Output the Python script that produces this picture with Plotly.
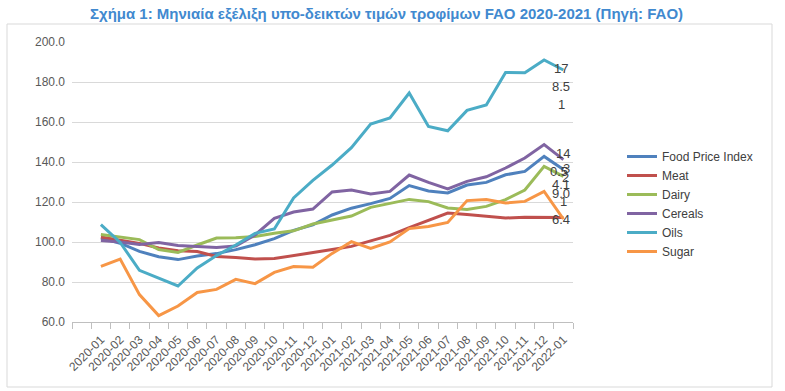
import plotly.graph_objects as go

months = ["2020-01", "2020-02", "2020-03", "2020-04", "2020-05", "2020-06", "2020-07",
          "2020-08", "2020-09", "2020-10", "2020-11", "2020-12", "2021-01", "2021-02",
          "2021-03", "2021-04", "2021-05", "2021-06", "2021-07", "2021-08", "2021-09",
          "2021-10", "2021-11", "2021-12", "2022-01"]

food_price_index = [102.0, 99.4, 95.3, 92.6, 91.2, 93.0, 94.2, 96.2, 98.6, 101.7, 105.8, 108.6,
                    113.5, 116.9, 119.2, 121.8, 128.2, 125.5, 124.5, 128.5, 129.8, 133.6, 135.3,
                    142.8, 136.2]
meat = [102.5, 100.8, 99.3, 97.0, 95.6, 95.2, 92.8, 92.3, 91.5, 91.7, 93.1, 94.8,
        96.2, 97.8, 100.5, 103.3, 107.2, 111.0, 114.5, 113.7, 112.8, 112.0, 112.4,
        112.3, 112.2]
dairy = [103.7, 102.5, 101.2, 96.2, 94.8, 98.5, 102.0, 102.1, 102.8, 104.4, 105.6, 109.0,
         111.0, 113.0, 117.3, 119.2, 121.3, 120.2, 117.0, 116.3, 117.8, 121.2, 126.0,
         137.8, 132.8]
cereals = [100.8, 100.0, 98.7, 99.8, 98.2, 97.6, 97.2, 98.0, 103.5, 111.8, 115.0, 116.5,
           125.0, 126.0, 124.0, 125.3, 133.5, 129.8, 126.5, 130.3, 132.6, 137.0, 142.0,
           148.7, 141.2]
oils = [108.7, 99.8, 85.8, 81.7, 78.0, 87.0, 93.2, 98.5, 104.3, 106.5, 122.0, 130.8,
        138.5, 147.2, 159.0, 162.0, 174.5, 157.8, 155.6, 165.8, 168.5, 184.8, 184.6,
        191.0, 186.0]
sugar = [87.8, 91.5, 73.7, 63.2, 68.0, 74.8, 76.3, 81.3, 79.2, 84.8, 87.7, 87.4,
         94.3, 100.2, 96.8, 100.0, 106.7, 107.8, 109.8, 120.7, 121.2, 119.5, 120.3,
         125.3, 111.5]

series_names = ["Food Price Index", "Meat", "Dairy", "Cereals", "Oils", "Sugar"]
series_values = [food_price_index, meat, dairy, cereals, oils, sugar]
series_colors = ["#4F81BD", "#C0504D", "#9BBB59", "#8064A2", "#4BACC6", "#F79646"]

y_ticks = [60, 80, 100, 120, 140, 160, 180, 200]

# overlapping end-of-series data labels as they appear in the original
end_label_texts = ["17", "8.5", "1", "14", "0.5", "3", "2", "4.1", "9.0", "1", "6.4"]
end_label_values = [186.9, 177.7, 169.0, 144.4, 135.5, 137.0, 132.5, 129.0, 124.4, 120.2, 111.4]
end_label_shifts = [-2, -2, -2, 0, -4, 3, 2, -2, -2, 0, -2]

title_text = "Σχήμα 1: Μηνιαία εξέλιξη υπο-δεικτών τιμών τροφίμων FAO 2020-2021 (Πηγή: FAO)"

categories = [" "] + months

fig = go.Figure()
for name, vals, col in zip(series_names, series_values, series_colors):
    fig.add_trace(go.Scatter(x=months, y=vals, name=name, mode="lines",
                             line=dict(color=col, width=3)))

for txt, val, sh in zip(end_label_texts, end_label_values, end_label_shifts):
    fig.add_annotation(x=months[-1], y=val, xref="x", yref="y", text=txt,
                       showarrow=False, xshift=sh,
                       font=dict(family="Arial, Liberation Sans", size=13, color="#404040"))

W, H = 785, 391
L, R, T, B = 72, 573, 42, 322
pw, ph = R - L, B - T


def px(xp):
    return (xp - L) / pw


def py(yp):
    return (B - yp) / ph


fig.add_shape(type="rect", xref="paper", yref="paper",
              x0=px(7), x1=px(772), y0=py(387), y1=py(24),
              line=dict(color="#D9D9D9", width=1), fillcolor="rgba(0,0,0,0)", layer="below")

fig.add_annotation(xref="paper", yref="paper", x=px(386), y=py(14), text="<b>" + title_text + "</b>",
                   showarrow=False, xanchor="center", yanchor="middle",
                   font=dict(family="Arial, Liberation Sans", size=15, color="#4189CF"))

fig.update_layout(
    width=W, height=H,
    margin=dict(l=L, r=W - R, t=T, b=H - B, pad=0, autoexpand=False),
    paper_bgcolor="white", plot_bgcolor="white",
    font=dict(family="Arial, Liberation Sans", color="#595959"),
    showlegend=True,
    legend=dict(x=px(622), y=py(142), xanchor="left", yanchor="top",
                font=dict(size=12, color="#404040"), bgcolor="rgba(0,0,0,0)",
                itemwidth=30, tracegroupgap=0),
)
fig.update_xaxes(type="category", categoryorder="array", categoryarray=categories,
                 range=[-0.5, len(categories) - 0.5], tickson="boundaries",
                 showgrid=False, showline=True, linecolor="#BFBFBF", linewidth=1,
                 ticks="outside", ticklen=6, tickcolor="#BFBFBF", tickangle=-45,
                 tickfont=dict(size=12, color="#595959"), zeroline=False, fixedrange=True,
                 ticklabelstandoff=5, automargin=False)
fig.update_yaxes(range=[60, 200], tickvals=y_ticks, tickformat=".1f",
                 showgrid=True, gridcolor="#D9D9D9", gridwidth=1, zeroline=False,
                 showline=False, ticks="", tickfont=dict(size=12, color="#595959"),
                 ticklabelstandoff=6, fixedrange=True, automargin=False)

fig.write_html("out.html", config={"displayModeBar": False},
               post_script="document.body.style.margin='0';document.body.style.overflow='hidden';")
